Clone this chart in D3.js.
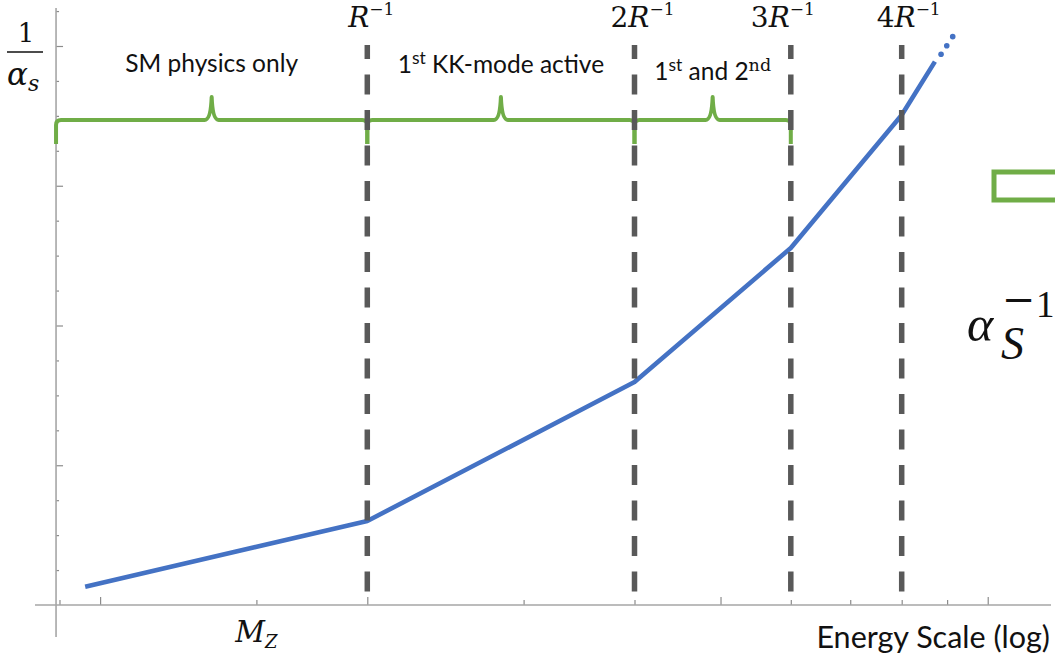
<!DOCTYPE html>
<html><head><meta charset="utf-8">
<script src="https://cdn.jsdelivr.net/npm/d3@7"></script>
<style>body{margin:0;background:#fff}svg{display:block}</style>
</head><body>
<svg id="c" width="1055" height="654"></svg>
<script>
// ---------------- data (energy in units of R^-1, coupling in arbitrary units) ----------------
const xStart = 0.446;                              // left end of energy axis
const thresholds = [1, 2, 3, 4];                   // KK thresholds
const thresholdPrefix = ["", "2", "3", "4"];       // labels nR^-1
const regionEdges = [0.446, 1, 2, 3];              // brace regions between consecutive edges
const regionLabels = [
  [{t: "SM physics only"}],
  [{t: "1"}, {t: "st", sup: true}, {t: " KK-mode active"}],
  [{t: "1"}, {t: "st", sup: true}, {t: " and 2"}, {t: "nd", sup: true, serif: true}]
];
const curveX = [0.481, 1, 2, 3, 4, 4.36];
const curveY = [0.131, 0.601, 1.596, 2.555, 3.506, 3.888];
const dotsX = [4.43, 4.496, 4.566];
const dotsY = [3.941, 4.002, 4.067];
const xTicksMinor = [0.45, 0.75, 1.5, 2, 3, 3.5, 4, 4.5];
const xTicksMajor = [0.5, 1, 2.5, 5];
const yTicksMinor = [0.25, 0.5, 0.75, 1.25, 1.5, 1.75, 2.25, 2.5, 2.75, 3.25, 3.5, 3.75, 4.25];
const yTicksMajor = [1, 2, 3, 4];
const mzPosition = 0.75;

// ---------------- colours ----------------
const BLUE = "#4472C4", GREEN = "#70AD47", DASH = "#595959", AXIS = "#A6A6A6";

const svg = d3.select("#c");
const x = d3.scaleLog().domain([1, 4]).range([367.3, 901.7]);
const y = d3.scaleLinear().domain([0, 4]).range([605, 46]);
const x0 = x(xStart);

// ---------------- axes ----------------
const gx = svg.append("g").attr("transform", `translate(0,${y(0)})`);
gx.append("g").call(d3.axisTop(x).tickValues(xTicksMinor).tickSize(5).tickFormat(""));
gx.append("g").call(d3.axisTop(x).tickValues(xTicksMajor).tickSize(8).tickFormat(""));
const gy = svg.append("g").attr("transform", `translate(${x0},0)`);
gy.append("g").call(d3.axisRight(y).tickValues(yTicksMinor).tickSize(3).tickFormat(""));
gy.append("g").call(d3.axisRight(y).tickValues(yTicksMajor).tickSize(7).tickFormat(""));
svg.selectAll(".domain").remove();
svg.selectAll(".tick line").attr("stroke", "#8c8c8c").attr("stroke-width", 1.2);
svg.append("line").attr("x1", 35).attr("x2", 1051).attr("y1", y(0)).attr("y2", y(0))
  .attr("stroke", AXIS).attr("stroke-width", 1.6);
svg.append("line").attr("x1", x0).attr("x2", x0).attr("y1", 8).attr("y2", 637)
  .attr("stroke", AXIS).attr("stroke-width", 1.6);

// ---------------- braces ----------------
const yb = 120, yTail = 144, yCusp = 97, r = 5;
function bracePath(a, b) {
  const c = (a + b) / 2;
  return `M${a},${yTail} L${a},${yb + r} Q${a},${yb} ${a + r},${yb} L${c - 7},${yb} ` +
         `Q${c - 1},${yb} ${c},${yCusp} Q${c + 1},${yb} ${c + 7},${yb} ` +
         `L${b - r},${yb} Q${b},${yb} ${b},${yb + r} L${b},${yTail}`;
}
const regions = d3.pairs(regionEdges);
svg.append("g").selectAll("path").data(regions).join("path")
  .attr("d", d => bracePath(x(d[0]), x(d[1])))
  .attr("fill", "none").attr("stroke", GREEN).attr("stroke-width", 4).attr("stroke-linejoin", "round");

// labels above braces
const labelBase = [72, 73, 80];
const sans = "Lato, 'Open Sans', sans-serif";
regions.forEach((d, i) => {
  const t = svg.append("text").attr("x", (x(d[0]) + x(d[1])) / 2).attr("y", labelBase[i])
    .attr("text-anchor", "middle").attr("font-family", sans)
    .attr("font-size", 24.5).attr("fill", "#111");
  regionLabels[i].forEach(s => {
    const ts = t.append("tspan").text(s.t);
    if (s.sup) {
      ts.attr("font-size", 17.5).attr("baseline-shift", "9");
      if (s.serif) ts.attr("font-family", "'DejaVu Serif', serif");
    }
  });
});

// ---------------- curve ----------------
const pts = curveX.map((v, i) => [x(v), y(curveY[i])]);
svg.append("path").attr("d", d3.line()(pts)).attr("fill", "none")
  .attr("stroke", BLUE).attr("stroke-width", 4.6).attr("stroke-linejoin", "round");
svg.append("g").selectAll("circle").data(dotsX.map((v, i) => [v, dotsY[i]])).join("circle")
  .attr("cx", d => x(d[0])).attr("cy", d => y(d[1])).attr("r", 2.8).attr("fill", BLUE);

// ---------------- thresholds ----------------
svg.append("g").selectAll("line").data(thresholds).join("line")
  .attr("x1", d => x(d)).attr("x2", d => x(d)).attr("y1", 45).attr("y2", y(0))
  .attr("stroke", DASH).attr("stroke-width", 5.5)
  .attr("stroke-dasharray", "20,15.5").attr("stroke-dashoffset", 6);

const serif = "'DejaVu Serif', serif";
const labelOffsets = [4, 8, -8, 7];
thresholds.forEach((t, i) => {
  const tx = svg.append("text").attr("x", x(t) + labelOffsets[i]).attr("y", 27)
    .attr("text-anchor", "middle").attr("font-family", serif).attr("font-size", 28).attr("fill", "#111");
  if (thresholdPrefix[i]) tx.append("tspan").text(thresholdPrefix[i]);
  tx.append("tspan").attr("font-style", "italic").text("R");
  tx.append("tspan").attr("font-size", 17).attr("baseline-shift", "12").text("\u22121");
});

// ---------------- axis labels ----------------
const mz = svg.append("text").attr("x", x(mzPosition)).attr("y", 642).attr("text-anchor", "middle")
  .attr("font-family", serif).attr("font-size", 29).attr("fill", "#111");
mz.append("tspan").attr("font-style", "italic").text("M");
mz.append("tspan").attr("font-style", "italic").attr("font-size", 18).attr("baseline-shift", "-6").text("Z");

svg.append("text").attr("x", 1050).attr("y", 648).attr("text-anchor", "end")
  .attr("font-family", sans).attr("font-size", 30.5).attr("fill", "#111")
  .text("Energy Scale (log)");

// 1/alpha_s
svg.append("text").attr("x", 26).attr("y", 42).attr("text-anchor", "middle")
  .attr("font-family", serif).attr("font-size", 26).attr("fill", "#111").text("1");
svg.append("line").attr("x1", 7).attr("x2", 43).attr("y1", 52).attr("y2", 52)
  .attr("stroke", "#111").attr("stroke-width", 1.6);
const al = svg.append("text").attr("x", 7).attr("y", 85).attr("font-family", serif)
  .attr("font-size", 31).attr("fill", "#111");
al.append("tspan").attr("font-style", "italic").text("\u03B1");
al.append("tspan").attr("font-style", "italic").attr("font-size", 22).attr("baseline-shift", "-6").text("s");

// green legend box and alpha_S^-1 (one text element with stacked sub/superscript)
svg.append("rect").attr("x", 994).attr("y", 172).attr("width", 90).attr("height", 28)
  .attr("fill", "none").attr("stroke", GREEN).attr("stroke-width", 5);
const lx = "'Liberation Serif', serif";
const aS = svg.append("text").attr("font-family", lx).attr("fill", "#111");
aS.append("tspan").attr("x", 967).attr("y", 341).attr("font-style", "italic").attr("font-size", 50).text("\u03B1");
aS.append("tspan").attr("x", 1001).attr("y", 359).attr("font-style", "italic").attr("font-size", 46).text("S");
aS.append("tspan").attr("x", 1002).attr("y", 313).attr("font-family", serif).attr("font-size", 40).text("\u2212");
aS.append("tspan").attr("x", 1036).attr("y", 317).attr("font-size", 37).text("1");
</script>
</body></html>
